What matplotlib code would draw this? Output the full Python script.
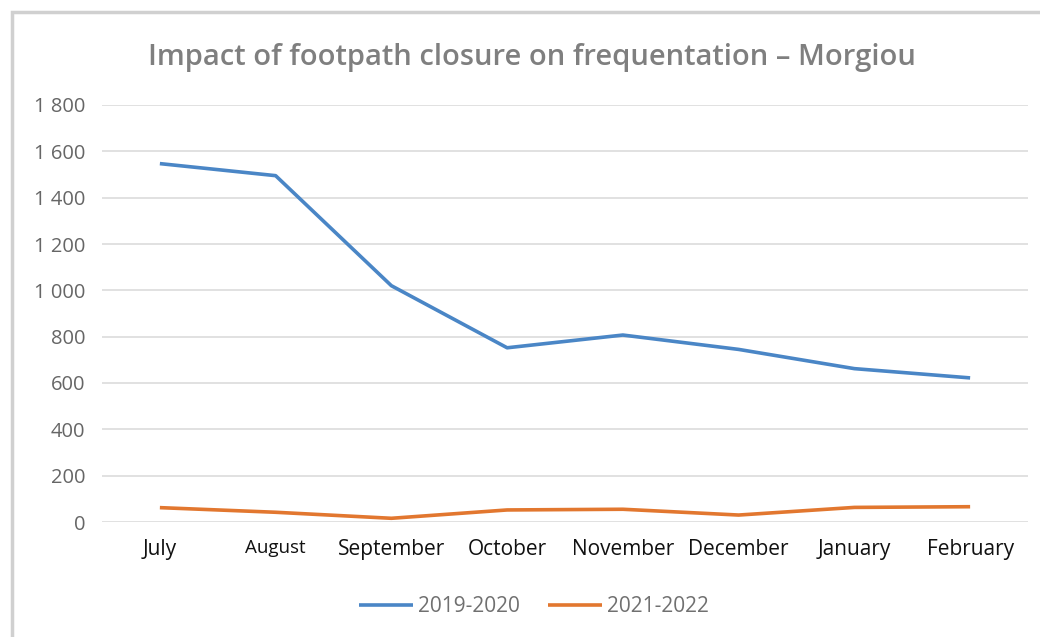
import matplotlib
matplotlib.use("Agg")
from matplotlib import pyplot as plt
from matplotlib import patches
from matplotlib.ticker import FuncFormatter

months = ["July", "August", "September", "October", "November", "December", "January", "February"]
visits_2019 = [1547, 1495, 1020, 752, 807, 745, 662, 622]
visits_2021 = [62, 42, 16, 52, 55, 30, 63, 66]
series_names = ["2019-2020", "2021-2022"]

blue = "#4a86c6"
orange = "#e2772f"
grey_txt = "#7f7f7f"

plt.rcParams["font.family"] = ["Open Sans", "DejaVu Sans"]

fig = plt.figure(figsize=(10.4, 6.37), dpi=100)
fig.patch.set_facecolor("white")

# outer chart frame
fig.add_artist(patches.Rectangle((12 / 1040, -0.05), 1.1, (637 - 12) / 637 + 0.05,
                                 transform=fig.transFigure, fill=False,
                                 edgecolor="#d0d0d0", linewidth=2.5))

ax = fig.add_axes([102 / 1040, (637 - 522) / 637, 926 / 1040, 417 / 637])
x = list(range(len(months)))
ax.plot(x, visits_2019, color=blue, linewidth=2.6, label=series_names[0], solid_capstyle="butt")
ax.plot(x, visits_2021, color=orange, linewidth=2.6, label=series_names[1], solid_capstyle="butt")

ax.set_xlim(-0.5, len(months) - 0.5)
ax.set_ylim(0, 1800)
ax.set_yticks(range(0, 1801, 200))
ax.yaxis.set_major_formatter(FuncFormatter(lambda v, p: f"{int(v):,}".replace(",", " ")))
ax.grid(axis="y", color="#dcdcdc", linewidth=1.2)
ax.set_axisbelow(True)
for s in ax.spines.values():
    s.set_visible(False)
ax.tick_params(axis="both", length=0)
ax.tick_params(axis="y", pad=12, labelsize=14.5, labelcolor="#666666")
ax.tick_params(axis="x", pad=12, labelsize=15, labelcolor="#111111")
ax.set_xticks(x)
ax.set_xticklabels(months)
ax.get_xticklabels()[1].set_fontsize(13.5)

fig.text(532 / 1040, 1 - 57 / 637, "Impact of footpath closure on frequentation \u2013 Morgiou",
         ha="center", va="center", fontsize=21, fontweight="semibold", color=grey_txt)

leg = ax.legend(loc="center", bbox_to_anchor=(534 / 1040, 1 - 607 / 637),
                bbox_transform=fig.transFigure, ncol=2, frameon=False,
                fontsize=15, handlelength=2.6, handletextpad=0.25, columnspacing=1.35)
for t in leg.get_texts():
    t.set_color("#707070")

fig.savefig("out.png", dpi=100, facecolor="white")
